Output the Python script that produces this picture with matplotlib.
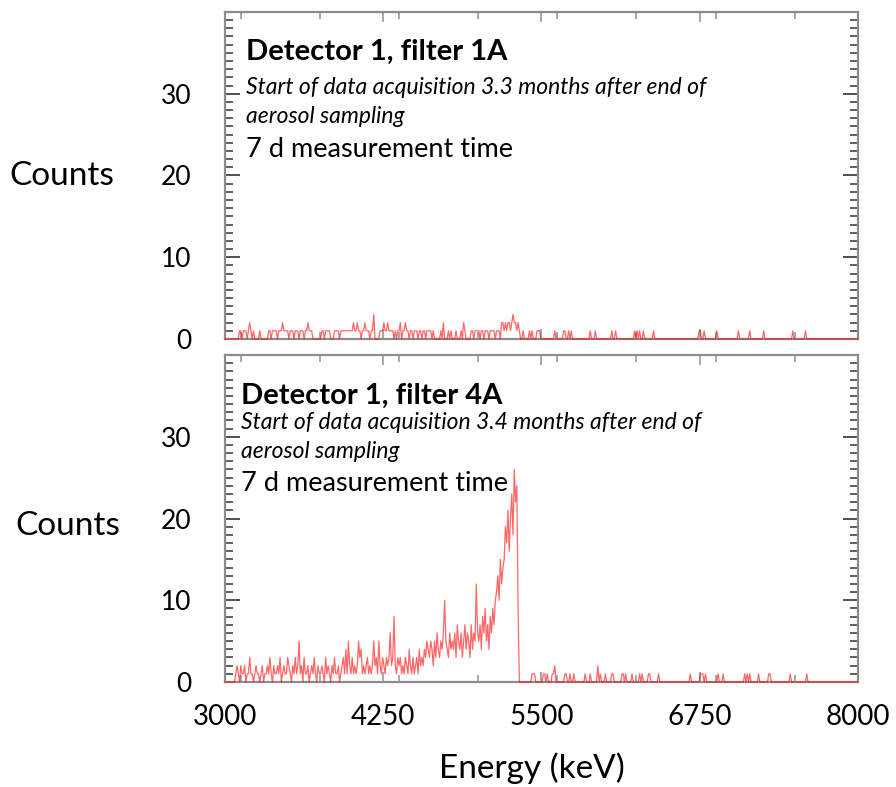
import numpy as np
import matplotlib.pyplot as plt
from matplotlib.ticker import MultipleLocator

plt.rcParams['font.family'] = ['Lato', 'DejaVu Sans']

e_lo, e_hi = 3000, 8000
bin_width = 10

# filter 1A: counts per 10 keV channel starting at 3000 keV
counts_1a = [
    0, 0, 0, 0, 0, 0, 0, 0, 0, 0, 0, 1, 1, 0, 1, 1, 1, 0, 1, 2,
    1, 0, 1, 0, 0, 0, 0, 1, 0, 0, 0, 0, 0, 0, 1, 1, 0, 1, 1, 1,
    1, 0, 1, 1, 1, 2, 1, 1, 1, 1, 0, 1, 1, 1, 0, 1, 1, 1, 0, 1,
    1, 1, 0, 1, 1, 2, 1, 1, 1, 0, 0, 0, 0, 0, 0, 0, 1, 1, 0, 1,
    1, 1, 1, 0, 0, 0, 1, 1, 1, 1, 0, 1, 1, 1, 1, 1, 1, 1, 1, 1,
    1, 2, 1, 1, 2, 1, 1, 0, 1, 1, 2, 1, 1, 1, 0, 1, 1, 3, 0, 0,
    0, 0, 1, 1, 1, 2, 1, 1, 2, 1, 1, 1, 1, 0, 1, 0, 1, 1, 2, 0,
    1, 1, 2, 1, 1, 0, 1, 1, 0, 1, 1, 1, 0, 1, 1, 0, 1, 1, 0, 1,
    1, 1, 1, 0, 1, 0, 0, 0, 0, 0, 1, 0, 2, 0, 0, 0, 1, 0, 1, 0,
    0, 0, 1, 0, 0, 0, 1, 0, 2, 1, 0, 0, 0, 0, 1, 1, 0, 1, 1, 1,
    1, 0, 1, 1, 0, 1, 1, 1, 0, 1, 1, 1, 1, 0, 1, 1, 1, 0, 2, 2,
    1, 2, 1, 2, 2, 1, 2, 3, 2, 2, 1, 2, 1, 0,
]
# isolated single counts above the alpha region (keV)
singles_1a = [5357, 5409, 5422, 5461, 5475, 5488, 5606, 5672, 5685, 5711,
              5738, 5883, 5922, 6054, 6080, 6238, 6251, 6278, 6304, 6383,
              6740, 6753, 6780, 6883, 7054, 7146, 7251, 7488, 7580]

# filter 4A: counts per 10 keV channel starting at 3000 keV
counts_4a = [
    0, 0, 0, 0, 0, 0, 0, 0, 1, 2, 1, 0, 2, 1, 1, 2, 0, 1, 1, 3,
    1, 1, 0, 1, 2, 1, 1, 0, 1, 2, 0, 1, 1, 2, 1, 3, 1, 0, 2, 1,
    1, 2, 1, 3, 0, 1, 2, 1, 1, 3, 2, 1, 0, 2, 1, 3, 1, 2, 5, 1,
    2, 0, 3, 1, 1, 2, 0, 1, 2, 1, 3, 1, 0, 2, 1, 1, 2, 1, 0, 3,
    1, 2, 1, 0, 2, 1, 3, 1, 1, 2, 0, 1, 2, 3, 1, 4, 1, 5, 2, 1,
    3, 1, 2, 1, 2, 5, 3, 4, 1, 2, 1, 2, 3, 1, 2, 1, 2, 5, 2, 3,
    1, 5, 2, 1, 3, 2, 1, 3, 2, 3, 6, 2, 3, 8, 2, 1, 3, 2, 3, 1,
    2, 1, 3, 2, 1, 4, 2, 1, 3, 1, 2, 3, 1, 4, 2, 3, 2, 4, 3, 5,
    4, 3, 5, 4, 2, 5, 3, 6, 4, 3, 5, 4, 6, 10, 5, 4, 3, 6, 4, 5,
    4, 6, 3, 7, 5, 4, 6, 3, 5, 7, 4, 6, 5, 3, 7, 4, 6, 5, 12, 6,
    5, 7, 4, 8, 6, 9, 5, 7, 4, 8, 6, 9, 7, 10, 11, 13, 10, 15, 12, 14,
    15, 19, 17, 21, 16, 20, 23, 18, 26, 22, 24, 9, 0,
]
singles_4a = [5423, 5436, 5449, 5515, 5528, 5541, 5581, 5594, 5686, 5699,
              5726, 5752, 5844, 5884, 5963, 6002, 6055, 6068, 6134, 6147,
              6160, 6213, 6279, 6292, 6344, 6358, 6423, 6674, 6753, 6766,
              6779, 6792, 6897, 6937, 7108, 7121, 7148, 7213, 7292, 7306,
              7464, 7596]
doubles_4a = [5607, 5949]

panel_titles = ["Detector 1, filter 1A", "Detector 1, filter 4A"]
delays = ["3.3", "3.4"]
x_ticks = [3000, 4250, 5500, 6750, 8000]

# text placement per panel: x, title y, italic lines y, measurement-time y
text_pos = [(0.033, 0.878, 0.768, 0.679, 0.578),
            (0.025, 0.875, 0.795, 0.706, 0.606)]


def spectrum(dense, singles, doubles=()):
    n = (e_hi - e_lo) // bin_width
    c = np.zeros(n)
    c[:len(dense)] = dense
    for e in singles:
        c[int((e - e_lo) // bin_width)] += 1
    for e in doubles:
        c[int((e - e_lo) // bin_width)] += 2
    return c


centers = np.arange(e_lo, e_hi, bin_width) + bin_width / 2
spectra = [spectrum(counts_1a, singles_1a),
           spectrum(counts_4a, singles_4a, doubles_4a)]

fig = plt.figure(figsize=(8.96, 7.87), dpi=100)
ax_top = fig.add_axes([0.2511, 0.5693, 0.7065, 0.4155])
ax_bot = fig.add_axes([0.2511, 0.1334, 0.7065, 0.4155])

for i, ax in enumerate([ax_top, ax_bot]):
    x = np.concatenate([[e_lo], centers, [e_hi]])
    y = np.concatenate([[0], spectra[i], [0]])
    ax.plot(x, y, color='red', lw=0.9, alpha=0.6, zorder=3, clip_on=False)
    ax.set_xlim(e_lo, e_hi)
    ax.set_ylim(0, 40)
    for sp in ax.spines.values():
        sp.set_color('#8c8c8c')
        sp.set_linewidth(1.6)

    ax.set_yticks([0, 10, 20, 30])
    ax.yaxis.set_minor_locator(MultipleLocator(1))
    ax.tick_params(axis='y', which='major', direction='in', length=11,
                   width=1.2, color='#333333', left=True, right=True,
                   labelsize=19, pad=24)
    ax.tick_params(axis='y', which='minor', direction='in', length=6,
                   width=1.2, color='#444444', left=True, right=True)

    ax.set_xticks(x_ticks)
    ax.xaxis.set_minor_locator(MultipleLocator(625))
    ax.tick_params(axis='x', which='major', direction='in', length=7,
                   width=1.2, color='#999999', top=True, bottom=True,
                   labelsize=20, pad=16)
    ax.tick_params(axis='x', which='minor', direction='in', length=5,
                   width=1.2, color='#999999', top=True, bottom=True)

    tx, ty_title, ty_it1, ty_it2, ty_time = text_pos[i]
    ax.text(tx, ty_title, panel_titles[i], transform=ax.transAxes,
            fontsize=21, fontweight='bold', ha='left', va='center')
    ax.text(tx, ty_it1,
            "Start of data acquisition %s months after end of" % delays[i],
            transform=ax.transAxes, fontsize=16.5, style='italic',
            ha='left', va='center')
    ax.text(tx, ty_it2, "aerosol sampling", transform=ax.transAxes,
            fontsize=16.5, style='italic', ha='left', va='center')
    ax.text(tx, ty_time, "7 d measurement time", transform=ax.transAxes,
            fontsize=19.5, ha='left', va='center')

ax_top.tick_params(axis='x', labelbottom=False)

fig.text(62 / 896, 1 - 176 / 787, "Counts", fontsize=24,
         ha='center', va='center')
fig.text(68 / 896, 1 - 526 / 787, "Counts", fontsize=24,
         ha='center', va='center')
fig.text(532 / 896, 1 - 768 / 787, "Energy (keV)", fontsize=24,
         ha='center', va='center')

fig.savefig("out.png", dpi=100)
